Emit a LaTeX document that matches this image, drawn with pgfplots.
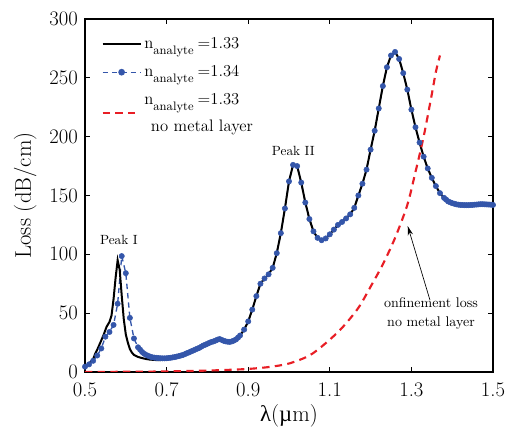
\documentclass[border=0pt]{standalone}
\usepackage{fontspec}
\usepackage{pgfplots}
\usepackage{pgfplotstable}
\pgfplotsset{compat=1.18}
\usetikzlibrary{arrows.meta}
\newfontfamily\gk{Liberation Serif}
\definecolor{dotblue}{RGB}{52,86,170}
\definecolor{dashred}{RGB}{232,30,37}

% n = 1.34 (with metal layer)
\pgfplotstableread{
x y
0.50 4.5
0.51 6.5
0.52 9.5
0.53 14
0.54 20
0.55 30
0.56 34
0.57 40
0.58 58
0.59 98.5
0.60 84
0.61 46
0.62 28.5
0.630 21
0.635 19
0.640 17
0.645 15.5
0.650 14.5
0.655 13.7
0.660 13
0.665 12.5
0.670 12.2
0.675 12
0.680 11.8
0.685 11.7
0.690 11.6
0.695 11.6
0.700 11.7
0.705 11.9
0.710 12.1
0.715 12.4
0.720 12.7
0.725 13.1
0.730 13.5
0.735 14
0.740 14.5
0.745 15.2
0.750 16
0.755 16.7
0.760 17.5
0.765 18.2
0.770 19
0.775 19.8
0.780 20.5
0.785 21.5
0.790 22.5
0.795 23.2
0.800 24
0.805 24.8
0.810 25.5
0.815 26
0.820 26.7
0.825 27.5
0.830 28
0.835 27.3
0.840 26.5
0.845 26
0.850 25.7
0.855 25.6
0.860 26
0.865 26.7
0.870 27.7
0.875 29.2
0.88 31
0.89 36
0.90 43
0.91 53
0.92 64.5
0.93 75
0.94 79.5
0.95 83
0.96 88.5
0.97 101
0.98 118
0.99 139
1.00 162
1.01 176
1.02 175
1.03 161
1.04 144
1.05 130
1.06 119.5
1.07 114
1.08 112
1.09 113.5
1.10 117
1.11 121
1.12 125
1.13 127.5
1.14 130.5
1.15 134
1.16 139.5
1.17 150
1.18 160
1.19 172
1.20 189
1.21 205
1.22 224
1.23 243
1.24 259
1.25 269
1.26 272
1.27 266
1.28 254
1.29 240
1.30 223
1.31 208
1.32 195
1.33 183
1.34 173
1.35 165
1.36 158
1.37 152
1.380 148
1.385 146.5
1.390 145
1.395 144.2
1.400 143.5
1.405 143
1.410 142.5
1.415 142.2
1.420 142
1.425 141.9
1.430 141.8
1.435 141.8
1.440 141.8
1.445 141.9
1.450 142
1.455 142.2
1.460 142.3
1.465 142.5
1.470 142.6
1.475 142.6
1.480 142.5
1.485 142.4
1.490 142.3
1.495 142.2
1.500 142
}\bluetab

% n = 1.33, Peak I region (joins the 1.34 curve from 0.72 on)
\pgfplotstableread{
x y
0.50 4.5
0.51 7
0.52 11
0.525 15.5
0.53 19
0.537 24.5
0.545 31
0.553 38.5
0.56 42.5
0.565 48
0.57 62
0.575 80
0.58 95
0.585 87
0.59 65
0.595 45
0.60 32
0.605 25
0.61 19.5
0.615 16.5
0.62 14.5
0.63 12.8
0.64 11.8
0.65 11
0.66 10.5
0.68 10
0.70 10.6
0.72 12.7
}\blacklow

% n = 1.33, no metal layer
\pgfplotstableread{
x y
0.50 0
0.55 0.1
0.60 0.2
0.65 0.3
0.70 0.5
0.75 0.8
0.80 1.2
0.85 1.8
0.90 2.6
0.95 4.2
1.00 7.2
1.05 14
1.09 24.5
1.13 37.5
1.17 54.5
1.20 72.5
1.23 91.5
1.26 114
1.29 142
1.31 170
1.33 200
1.35 236
1.36 255
1.37 269
}\redtab

\begin{document}
\begin{tikzpicture}
\begin{axis}[
    name=ax,
    scale only axis,
    width=306pt,
    height=264.75pt,
    xmin=0.5, xmax=1.5,
    ymin=0, ymax=300,
    xtick={0.5,0.7,...,1.5},
    xticklabels={0.5,0.7,0.9,1.1,1.3,1.5},
    ytick={0,50,...,300},
    tick align=inside,
    major tick length=3.5pt,
    axis line style={line width=0.8pt},
    every tick/.style={black, line width=0.6pt},
    /pgf/number format/assume math mode=true,
    tick label style={font=\fontsize{15.5}{18}\selectfont, inner sep=1pt},
    xticklabel style={yshift=-7pt},
    yticklabel style={xshift=-4.2pt},
    label style={font=\fontsize{17}{20}\selectfont},
    xlabel={{\gk λ}({\gk µ}m)},
    ylabel={Loss (dB/cm)},
    xlabel style={yshift=-1pt},
    ylabel style={yshift=5pt},
    legend style={draw=none, fill=none, inner sep=0pt,
        at={(axis description cs:0.04,0.955)}, anchor=north west,
        font=\fontsize{12.5}{14}\selectfont, row sep=7pt,
        cells={anchor=west, align=left}},
    legend image code/.code={
        \draw[mark repeat=2,mark phase=2,#1] plot coordinates {(0cm,0cm) (0.5cm,0cm) (1cm,0cm)};},
]
\addlegendimage{black, line width=1.5pt}
\addlegendentry{n\raisebox{-4.5pt}{\fontsize{9.2}{10}\selectfont analyte}\hspace{3pt}=1.33}
\addlegendimage{dotblue, line width=1pt, dash pattern=on 4pt off 3pt, mark=*, mark size=2pt, mark options={solid}}
\addlegendentry{n\raisebox{-4.5pt}{\fontsize{9.2}{10}\selectfont analyte}\hspace{3pt}=1.34}
\addlegendimage{dashred, line width=1.6pt, dash pattern=on 5.5pt off 4pt}
\addlegendentry{n\raisebox{-4.5pt}{\fontsize{9.2}{10}\selectfont analyte}\hspace{3pt}=1.33\\[4pt]\hspace{5pt}no metal layer}

\addplot[forget plot, dotblue, line width=1pt, dash pattern=on 4pt off 3pt] table {\bluetab};
\addplot[forget plot, black, line width=1.5pt] table {\blacklow};
\addplot[forget plot, black, line width=1.5pt, restrict x to domain=0.72:1.5] table {\bluetab};
\addplot[forget plot, only marks, mark=*, mark size=2pt, dotblue] table {\bluetab};
\addplot[forget plot, dashred, line width=1.6pt, dash pattern=on 5.5pt off 4pt, smooth] table {\redtab};

\node[font=\fontsize{10}{12}\selectfont] at (axis cs:0.583,112) {Peak I};
\node[font=\fontsize{10}{12}\selectfont] at (axis cs:1.0106,188) {Peak II};
\node[font=\fontsize{10.5}{14}\selectfont, align=center] at (axis cs:1.348,49.7) {onfinement loss\\no metal layer};
\draw[line width=0.5pt, -{Stealth[length=7pt,width=4pt]}] (axis cs:1.3456,61) -- (axis cs:1.291,124);
\end{axis}
\pgfresetboundingbox
\path ([xshift=-63.75pt,yshift=-43.5pt]ax.south west) rectangle ([xshift=10.5pt,yshift=14.25pt]ax.north east);
\end{tikzpicture}
\end{document}
